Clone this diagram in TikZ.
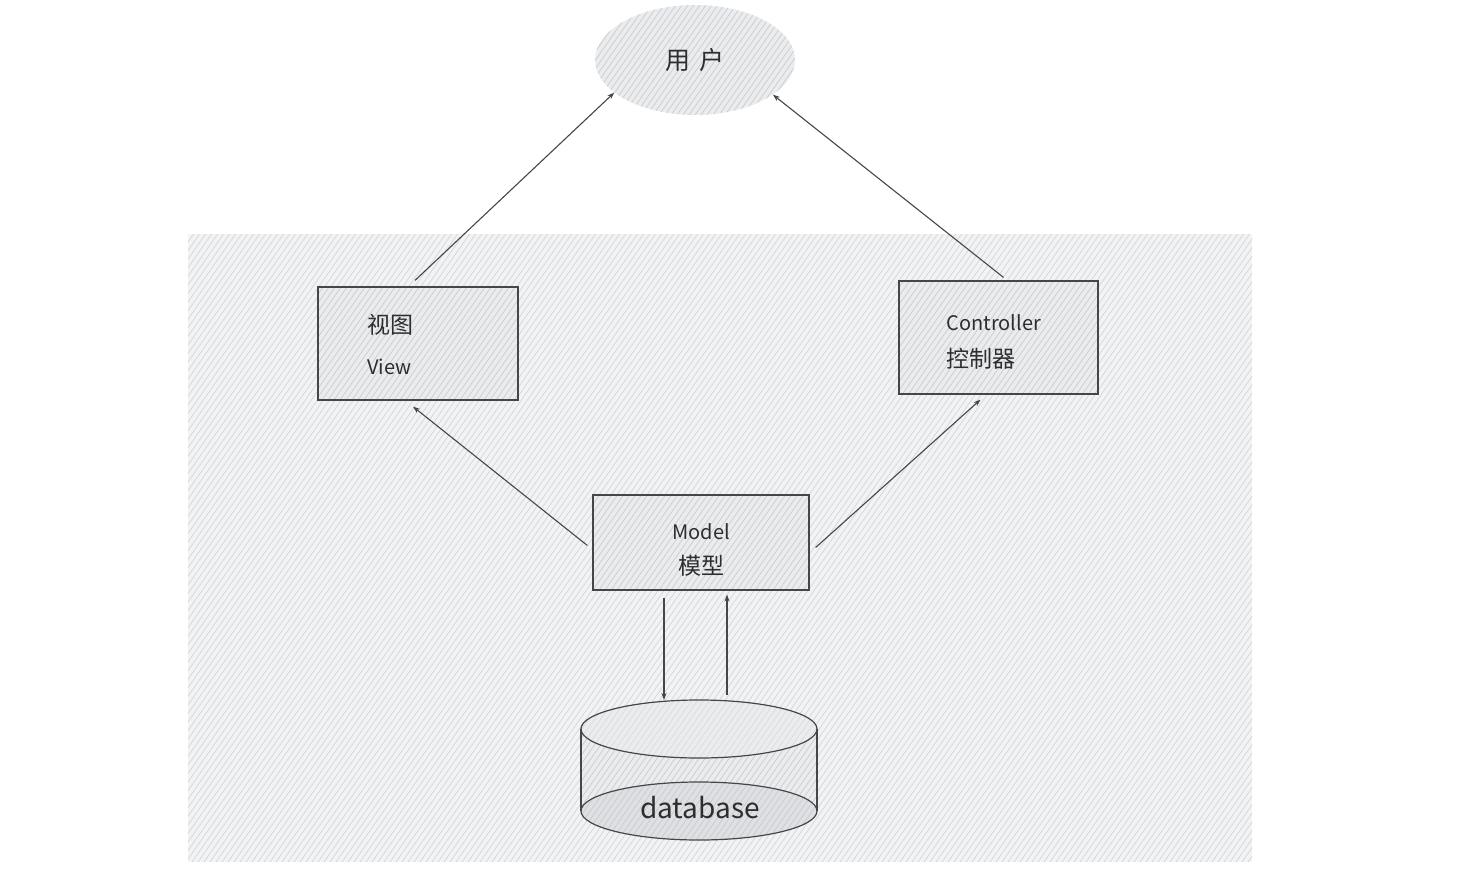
\documentclass[tikz,border=0pt]{standalone}
\usepackage{fontspec}
\setmainfont{Noto Sans CJK SC}
\usetikzlibrary{shapes.geometric,arrows.meta}
\definecolor{ink}{HTML}{464646}
\definecolor{txt}{HTML}{2E2E2E}
\definecolor{bgfill}{HTML}{F2F3F4}
\definecolor{bghatch}{HTML}{D2D5D9}
\definecolor{boxfill}{HTML}{EAECEE}
\definecolor{boxhatch}{HTML}{C8CCD0}
\newcommand{\zhs}{\fontsize{23}{28}\selectfont}
\newcommand{\lts}{\fontsize{20}{28}\selectfont}
\begin{document}
\begin{tikzpicture}[x=1pt,y=-1pt,
  hatch/.style 2 args={path picture={\foreach \i in {0,...,#1}{\draw[#2,line width=0.7pt] ([xshift=\i*6pt-#1*3pt]path picture bounding box.south) -- ++(560pt,800pt);}}},
  box/.style={draw=ink,line width=1.2pt,fill=boxfill,text=txt,inner sep=0pt},
  arr/.style={draw=ink,line width=1.1pt,-{Stealth[length=7pt,width=5pt]}},
  txtnode/.style={text=txt,inner sep=0pt}
]
\useasboundingbox (0,0) rectangle (1457,889);
% background panel
\path[fill=bgfill,hatch={330}{bghatch}] (188,234) rectangle (1252,862);
% user ellipse
\node[ellipse,fill=boxfill,hatch={62}{boxhatch},minimum width=200pt,minimum height=110pt,inner sep=0pt,text=txt,font=\fontsize{25}{30}\selectfont] (user) at (695,60) {用\hspace{0.35em}户};
% view
\node[box,hatch={62}{boxhatch},minimum width=200pt,minimum height=113pt,text width=102pt,align=left,font=\fontsize{20}{41}\selectfont] (view) at (418,343.5) {\rule{0pt}{22pt}{\zhs 视图}\\{\lts View}};
% controller
\node[box,hatch={62}{boxhatch},minimum width=199pt,minimum height=113pt,text width=104pt,align=left,font=\fontsize{20}{37}\selectfont] (ctrl) at (998.5,337.5) {\rule{0pt}{24pt}{\lts Controller}\\{\zhs 控制器}};
% model
\node[box,hatch={62}{boxhatch},minimum width=216pt,minimum height=95pt,align=center,font=\fontsize{20}{35}\selectfont] (model) at (701,542.5) {\rule{0pt}{30pt}{\lts Model}\\{\zhs 模型}};
% database cylinder
\coordinate (dbtop) at (699,700);
\path[fill=boxfill,hatch={75}{boxhatch}] (581,729) -- (581,811) arc[start angle=180,end angle=360,x radius=118pt,y radius=29pt] -- (817,729) arc[start angle=0,end angle=180,x radius=118pt,y radius=29pt] -- cycle;
\draw[ink,line width=1.2pt,fill=boxfill,fill opacity=0.5] (699,729) ellipse [x radius=118pt,y radius=29pt];
\draw[ink,line width=1.2pt,fill=boxhatch,fill opacity=0.35] (699,811) ellipse [x radius=118pt,y radius=29pt];
\draw[ink,line width=1.2pt] (581,729) -- (581,811) (817,729) -- (817,811);
\node[txtnode,font=\fontsize{28}{32}\selectfont] (db) at (700,808) {database};
% arrows
\draw[arr] ([xshift=-3pt,yshift=6pt]view.north) -- (user.202);
\draw[arr] ([xshift=5pt,yshift=3pt]ctrl.north) -- (user.336);
\draw[arr] ([xshift=-5pt,yshift=-3pt]model.west) -- ([xshift=-5pt,yshift=-6pt]view.south);
\draw[arr] ([xshift=6pt,yshift=-5pt]model.east) -- ([xshift=-18pt,yshift=-5pt]ctrl.south);
\draw[arr] ([xshift=-37pt,yshift=-7pt]model.south) -- ([xshift=-35pt]dbtop);
\draw[arr] ([xshift=28pt,yshift=5pt]dbtop) -- ([xshift=26pt,yshift=-4pt]model.south);
\end{tikzpicture}
\end{document}
